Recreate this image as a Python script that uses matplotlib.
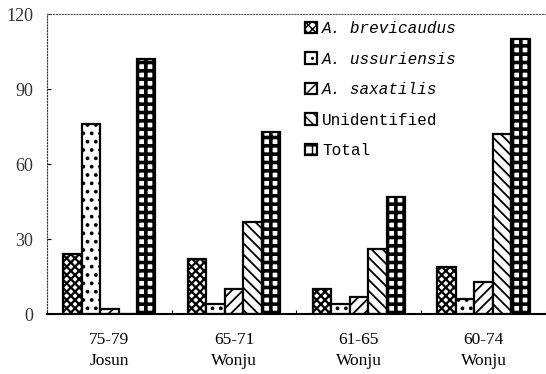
import matplotlib
matplotlib.use("Agg")
import matplotlib.pyplot as plt
import numpy as np
from matplotlib.ticker import FixedLocator

# data
categories = ["75-79\nJosun", "65-71\nWonju", "61-65\nWonju", "60-74\nWonju"]
series_names = ["A. brevicaudus", "A. ussuriensis", "A. saxatilis", "Unidentified", "Total"]
brevicaudus = [24, 22, 10, 19]
ussuriensis = [76, 4, 4, 6]
saxatilis = [2, 10, 7, 13]
unidentified = [0, 37, 26, 72]
total = [102, 73, 47, 110]
yticks = [0, 30, 60, 90, 120]

series = [brevicaudus, ussuriensis, saxatilis, unidentified, total]
hatches = ["xxxx", "..", "///", "\\\\\\", "++"]
hatch_lw = [1.6, 1.5, 1.3, 1.3, 2.6]

fig = plt.figure(figsize=(5.46, 3.74), dpi=100)
ax = fig.add_axes([0.086, 0.1604, 0.914, 0.802])

x = np.arange(len(categories))
w = 0.148
for i, vals in enumerate(series):
    with plt.rc_context({"hatch.linewidth": hatch_lw[i], "hatch.color": "black"}):
        ax.bar(x + (i - 2) * w, vals, w, color="white", edgecolor="black",
               linewidth=1.6, hatch=hatches[i], label=series_names[i])

ax.set_xlim(-0.5, 3.5)
ax.set_ylim(0, 120)
ax.set_yticks(yticks)
ax.set_xticks(x)
ax.set_xticklabels(categories, fontfamily="Liberation Serif", fontsize=12.5, linespacing=1.45)
ax.xaxis.set_minor_locator(FixedLocator([-0.5, 0.5, 1.5, 2.5, 3.5]))
ax.tick_params(axis="x", which="major", length=0, pad=13)
ax.tick_params(axis="x", which="minor", length=3, direction="in", width=0.8)
ax.tick_params(axis="y", length=3, direction="in", width=0.8, pad=10)
for lab in ax.get_yticklabels():
    lab.set_fontfamily("Liberation Serif")
    lab.set_fontsize(13)
    lab.set_color("#333333")

ax.spines["right"].set_visible(False)
ax.spines["top"].set_linestyle(":")
ax.spines["top"].set_color("#555555")
ax.spines["left"].set_linestyle(":")
ax.spines["left"].set_color("#333333")
ax.spines["bottom"].set_linewidth(1.5)

leg = ax.legend(loc="upper left", bbox_to_anchor=(0.505, 0.998), frameon=False,
                prop={"family": "Liberation Mono", "size": 11.5},
                handlelength=0.75, handleheight=0.75, handletextpad=0.3,
                labelspacing=0.97, borderaxespad=0)
for i, t in enumerate(leg.get_texts()):
    if i < 3:
        t.set_fontstyle("italic")

fig.savefig("out.png", dpi=100)
